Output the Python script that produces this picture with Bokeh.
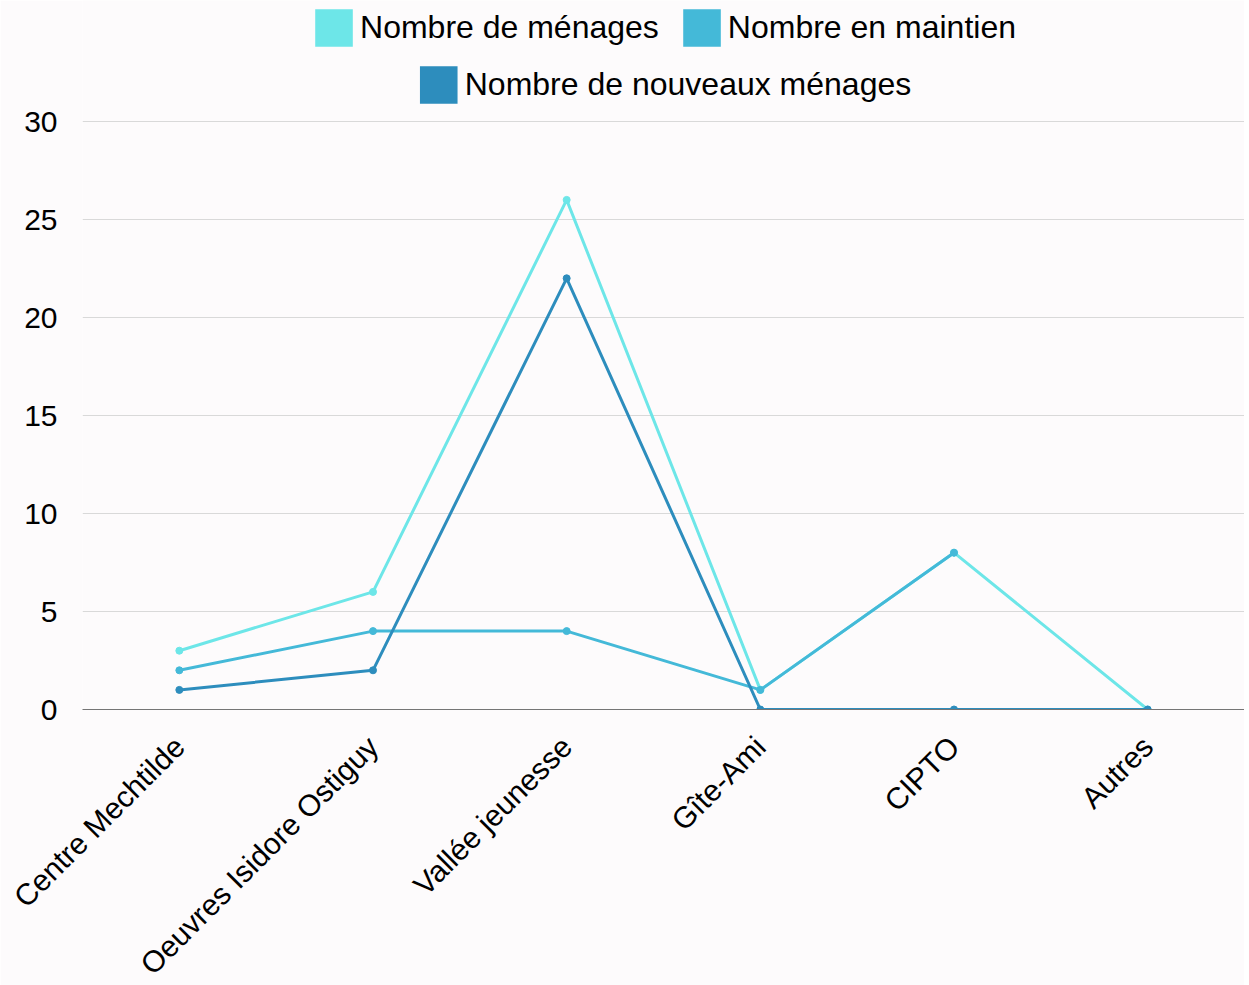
import math
from bokeh.plotting import figure
from bokeh.models import Legend, LegendItem, Range1d, FixedTicker, FactorRange
from bokeh.embed import file_html
from bokeh.resources import INLINE

categories = ["Centre Mechtilde", "Oeuvres Isidore Ostiguy", "Vallée jeunesse",
              "Gîte-Ami", "CIPTO", "Autres"]
menages = [3, 6, 26, 1, 8, 0]
maintien = [2, 4, 4, 1, 8, float("nan")]
nouveaux = [1, 2, 22, 0, 0, 0]
series_names = ["Nombre de ménages", "Nombre en maintien", "Nombre de nouveaux ménages"]
y_ticks = [0, 5, 10, 15, 20, 25, 30]

colors = ["#6de6e8", "#44b9d8", "#2d8dbd"]
FONT = "Liberation Sans"
BG = "#fdfbfc"

# layout: frame reaches the top of the canvas; the legend sits in the space above y=30
FRAME_W, FRAME_H = 1162, 709
PX_PER_UNIT = 19.6
y_top = FRAME_H / PX_PER_UNIT

p = figure(frame_width=FRAME_W, frame_height=FRAME_H, x_range=FactorRange(*categories),
           y_range=Range1d(0, y_top), output_backend="svg", toolbar_location=None,
           title=None, min_border_left=82, min_border_right=0,
           min_border_bottom=0, min_border_top=0)
p.background_fill_color = BG
p.border_fill_color = BG
p.outline_line_color = None

p.xgrid.grid_line_color = None
p.ygrid.grid_line_color = "#d9d9d9"
p.ygrid.grid_line_width = 1

p.yaxis.ticker = FixedTicker(ticks=y_ticks)
p.yaxis.axis_line_color = None
p.yaxis.major_tick_line_color = None
p.yaxis.minor_tick_line_color = None
p.yaxis.major_tick_in = 0
p.yaxis.major_tick_out = 0
p.yaxis.major_label_standoff = 25
p.yaxis.major_label_text_font = FONT
p.yaxis.major_label_text_font_size = "30px"
p.yaxis.major_label_text_color = "#000000"

p.xaxis.axis_line_color = "#757575"
p.xaxis.axis_line_width = 1
p.xaxis.major_tick_line_color = None
p.xaxis.minor_tick_line_color = None
p.xaxis.major_tick_in = 0
p.xaxis.major_tick_out = 0
p.xaxis.major_label_standoff = 32
p.xaxis.major_label_orientation = math.pi / 4
p.xaxis.major_label_text_font = FONT
p.xaxis.major_label_text_font_size = "30px"
p.xaxis.major_label_text_color = "#000000"

for vals, col in zip([menages, maintien, nouveaux], colors):
    p.line(x=categories, y=vals, line_color=col, line_width=3)
    p.scatter(x=categories, y=vals, marker="circle", size=7,
              fill_color=col, line_color=col)

dummies = []
for col in colors:
    r = p.vbar(x=[categories[0]], top=[float("nan")], bottom=[float("nan")],
               width=0.5, fill_color=col, line_color=None)
    dummies.append(r)

def make_legend(idx, margin):
    lg = Legend(items=[LegendItem(label=series_names[i], renderers=[dummies[i]]) for i in idx],
                orientation="horizontal", location="top_center",
                glyph_width=47, glyph_height=47, label_standoff=3, spacing=19,
                padding=0, margin=margin, border_line_color=None,
                background_fill_alpha=0,
                label_text_font=FONT, label_text_font_size="32px",
                label_text_color="#000000")
    return lg

p.add_layout(make_legend([0, 1], 4), "center")
p.add_layout(make_legend([2], 61), "center")

open("out.html", "w").write(file_html(p, INLINE))
